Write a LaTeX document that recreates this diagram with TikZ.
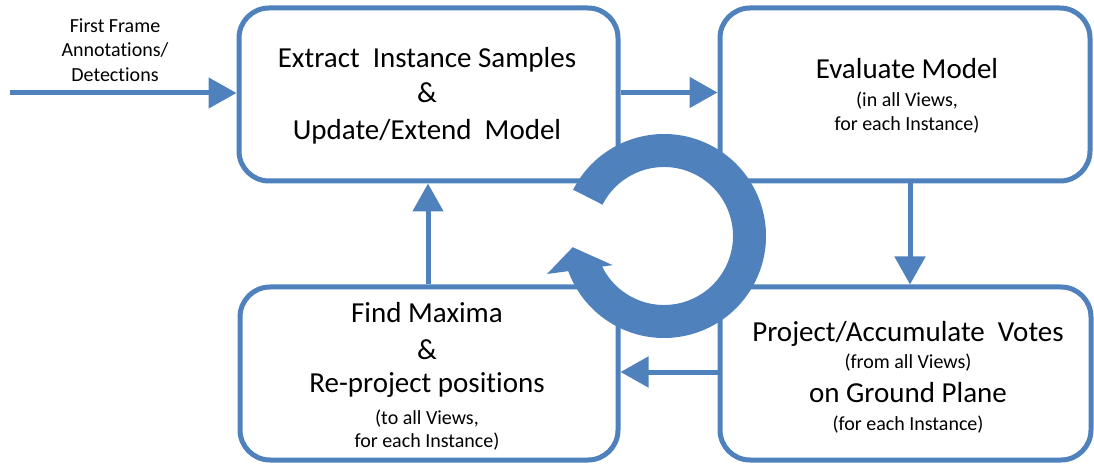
\documentclass[tikz,border=0pt]{standalone}
\usepackage{fontspec}
\setmainfont{Carlito}[Ligatures=NoCommon]
\usetikzlibrary{arrows.meta,calc}
\definecolor{cblue}{HTML}{4F81BD}
\begin{document}
\begin{tikzpicture}[x=0.5pt,y=0.5pt,
  box/.style={draw=cblue, line width=2.5pt, rounded corners=15pt, fill=white, inner sep=0pt},
  conn/.style={draw=cblue, line width=2.5pt, -{Triangle[length=14pt,width=15pt]}},
  big/.style={font=\fontsize{14.5}{17}\selectfont, anchor=base, inner sep=0pt},
  small/.style={font=\fontsize{10}{12}\selectfont, anchor=base, inner sep=0pt}]
\useasboundingbox (0,0) rectangle (1094,-465);

% boxes
\node[box, minimum width=189.5pt, minimum height=86.5pt] (A) at (428.5,-94.5) {};
\node[box, minimum width=185pt, minimum height=86.5pt] (B) at (905,-94.5) {};
\node[box, minimum width=189pt, minimum height=86.5pt] (C) at (429,-373.5) {};
\node[box, minimum width=185.5pt, minimum height=86.5pt] (D) at (905.5,-373.5) {};

% texts
\node[big] (a1) at (427,-68) {Extract\ \ Instance Samples};
\node[big] (a2) at (427,-103) {\&};
\node[big] (a3) at (427,-140) {Update/Extend\ \ Model};

\node[big] (b1) at (907,-79) {Evaluate Model};
\node[small] (b2) at (907,-107) {(in all Views,};
\node[small] (b3) at (907,-131) {for each Instance)};

\node[big] (c1) at (427,-322) {Find Maxima};
\node[big] (c2) at (427,-359) {\&};
\node[big] (c3) at (427,-393) {Re-project positions};
\node[small] (c4) at (427,-424) {(to all Views,};
\node[small] (c5) at (427,-447) {for each Instance)};

\node[big] (d1) at (908,-342) {Project/Accumulate\ \ Votes};
\node[small] (d2) at (908,-368) {(from all Views)};
\node[big] (d3) at (908,-402) {on Ground Plane};
\node[small] (d4) at (908,-430) {(for each Instance)};

\node[small] (i1) at (115,-33) {First Frame};
\node[small] (i2) at (115,-57) {Annotations/};
\node[small] (i3) at (115,-82) {Detections};

% connectors
\coordinate (in) at (10,-93);
\draw[conn] (in) -- (A.west |- in);
\draw[conn] ($(A.east)+(0,2)$) -- ($(B.west)+(0,2)$);
\draw[conn] ($(B.south)+(5,0)$) -- ($(D.north)+(4.5,0)$);
\draw[conn] ($(D.west)+(0,1.5)$) -- ($(C.east)+(0,1.5)$);
\draw[conn] ($(C.north)+(-1,0)$) -- ($(A.south)+(-0.5,0)$);

% cycle arrow
\coordinate (cyc) at (664,-236);
\fill[white] (cyc) circle[radius=69];
\fill[cblue] ($(cyc)+(153:102)$) arc[start angle=153, end angle=-160, radius=102]
  -- ($(cyc)+(-160:69)$) arc[start angle=-160, end angle=153, radius=69] -- cycle;
\fill[cblue] ($(cyc)+(198:123)$) -- ($(cyc)+(187:92)$) -- ($(cyc)+(209.6:59)$) -- cycle;
\end{tikzpicture}
\end{document}
